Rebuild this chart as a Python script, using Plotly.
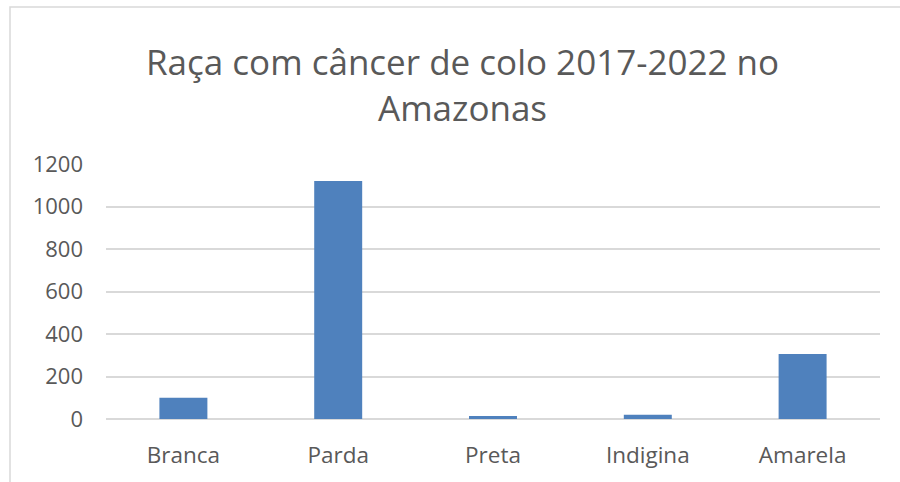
import plotly.graph_objects as go

# Casos por raça/cor
categorias = ["Branca", "Parda", "Preta", "Indigina", "Amarela"]
casos = [100, 1120, 14, 20, 306]
y_ticks = [0, 200, 400, 600, 800, 1000, 1200]

W, H = 900, 482
ML, MR, MT, MB = 106, 20, 164, 63
pw, ph = W - ML - MR, H - MT - MB

def px_x(x):
    return (x - ML) / pw

def px_y(y):
    return (H - MB - y) / ph

texto = "#595959"
fonte = "Open Sans, Calibri, Carlito, sans-serif"

fig = go.Figure(
    go.Bar(
        x=categorias,
        y=casos,
        marker=dict(color="#4F81BD", line=dict(width=0)),
        width=0.31,
    )
)

fig.update_layout(
    width=W,
    height=H,
    margin=dict(l=ML, r=MR, t=MT, b=MB),
    paper_bgcolor="white",
    plot_bgcolor="white",
    showlegend=False,
    font=dict(family=fonte, color=texto),
    xaxis=dict(
        showgrid=False,
        showline=False,
        ticks="",
        tickfont=dict(size=22.5, color=texto),
        ticklabelstandoff=20,
    ),
    yaxis=dict(
        range=[0, 1200],
        tickvals=y_ticks,
        showgrid=True,
        gridcolor="#d9d9d9",
        gridwidth=1.5,
        zeroline=True,
        zerolinecolor="#d9d9d9",
        zerolinewidth=1.5,
        showline=False,
        ticks="",
        tickfont=dict(size=22, color=texto),
        ticklabelstandoff=22,
    ),
    shapes=[
        dict(
            type="rect",
            xref="paper",
            yref="paper",
            x0=px_x(10),
            x1=px_x(W + 10),
            y0=px_y(H + 10),
            y1=px_y(7),
            line=dict(color="#d9d9d9", width=1.5),
            fillcolor="rgba(0,0,0,0)",
            layer="below",
        )
    ],
    annotations=[
        dict(
            text="Raça com câncer de colo 2017-2022 no",
            xref="paper",
            yref="paper",
            x=px_x(462),
            y=px_y(61),
            xanchor="center",
            yanchor="middle",
            showarrow=False,
            font=dict(size=35, color=texto, family=fonte),
        ),
        dict(
            text="Amazonas",
            xref="paper",
            yref="paper",
            x=px_x(462),
            y=px_y(108),
            xanchor="center",
            yanchor="middle",
            showarrow=False,
            font=dict(size=35, color=texto, family=fonte),
        ),
    ],
)

fig.write_html("out.html")
